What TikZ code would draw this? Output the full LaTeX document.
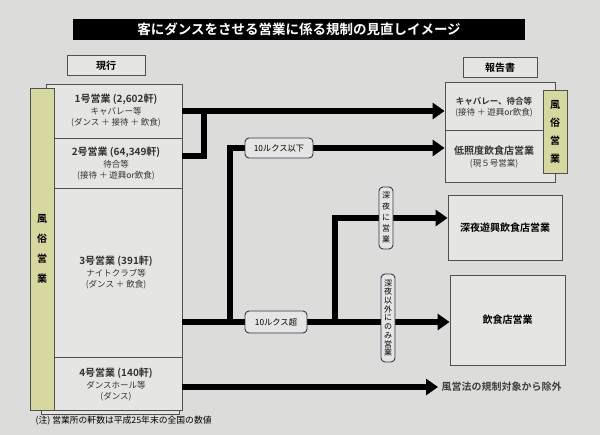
\documentclass[tikz,border=0pt]{standalone}
\usepackage{fontspec}
\setmainfont{Noto Sans CJK JP}[BoldFont={Noto Sans CJK JP Bold}]
\usepackage{xcolor}
\usetikzlibrary{arrows.meta,positioning}

\definecolor{paper}{RGB}{220,220,218}
\definecolor{sheet}{RGB}{229,229,227}
\definecolor{strip}{RGB}{214,216,160}
\definecolor{rim}{RGB}{80,80,80}
\definecolor{tagrim}{RGB}{50,55,80}

\tikzset{
  rowbox/.style={draw=rim, fill=sheet, line width=0.8pt, inner sep=0pt},
  headbox/.style={draw=rim, fill=sheet, line width=1pt, inner sep=0pt, font=\bfseries\fontsize{10}{12}\selectfont},
  stripbox/.style={draw=rim, fill=strip, line width=0.6pt, inner sep=0pt},
  flow/.style={line width=6pt, line join=miter},
  arr/.style={line width=6pt, line join=miter, -{Triangle[length=12pt,width=16pt]}},
  tag/.style={draw=tagrim, fill=sheet, rounded corners=4pt, line width=0.9pt, inner sep=0pt, align=center, font=\fontsize{8.3}{10}\selectfont},
  rowtext/.style={align=center, font=\fontsize{8.5}{11.5}\selectfont, text=black!80},
  vtext/.style={align=center, font=\bfseries\fontsize{10}{20}\selectfont}
}

\begin{document}
\begin{tikzpicture}[x=1pt,y=-1pt]
  % paper
  \fill[paper] (0,0) rectangle (600,435);
  \useasboundingbox (0,0) rectangle (600,435);

  % title and headings
  \node[fill=black, minimum width=452pt, minimum height=21pt, inner sep=0pt,
        text=white, font=\bfseries\fontsize{13.5}{15}\selectfont] (title) at (299,29.5)
        {客にダンスをさせる営業に係る規制の見直しイメージ};
  \node[headbox, minimum width=78pt, minimum height=20pt] (now) at (106,66) {現行};
  \node[headbox, minimum width=74pt, minimum height=20pt] (report) at (500,68) {報告書};

  % current business classes
  \draw[rim, line width=0.8pt, fill=sheet] (41,88) rectangle (179,414);
  \node[rowbox, minimum width=136pt, minimum height=54pt] (r1) at (114,111) {};
  \node[rowbox, minimum width=136pt, minimum height=50pt] (r2) at (114,163) {};
  \node[rowbox, minimum width=136pt, minimum height=169pt] (r3) at (114,272.5) {};
  \node[rowbox, minimum width=136pt, minimum height=53pt] (r4) at (114,383.5) {};
  \node[stripbox, minimum width=24pt, minimum height=322pt] (fuzoku1) at (42,249) {};
  \node[vtext] at (fuzoku1) {風\\俗\\営\\業};

  \node[rowtext] at (116,111) {\textbf{\fontsize{10}{11.5}\selectfont 1号営業 (2,602軒)}\\キャバレー等\\(ダンス\ ＋\ 接待\ ＋\ 飲食)};
  \node[rowtext] at (116,164) {\textbf{\fontsize{10}{11.5}\selectfont 2号営業 (64,349軒)}\\待合等\\(接待\ ＋\ 遊興or飲食)};
  \node[rowtext] at (116,273) {\textbf{\fontsize{10}{11.5}\selectfont 3号営業 (391軒)}\\ナイトクラブ等\\(ダンス\ ＋\ 飲食)};
  \node[rowtext] at (116,385) {\textbf{\fontsize{10}{11.5}\selectfont 4号営業 (140軒)}\\ダンスホール等\\(ダンス)};
  \node[anchor=west, font=\fontsize{8.8}{10}\selectfont] (note) at (32,421)
        {(注)\ 営業所の軒数は平成25年末の全国の数値};

  % report side
  \node[rowbox, minimum width=110pt, minimum height=48pt] (rep1) at (500,106) {};
  \node[rowbox, minimum width=110pt, minimum height=52pt] (rep2) at (500,156) {};
  \node[rowbox, minimum width=114pt, minimum height=65pt] (rep3) at (505,227.5) {};
  \node[rowbox, minimum width=115pt, minimum height=90pt] (rep4) at (507.5,320) {};
  \node[rowtext] at (494,107) {\textbf{キャバレー、待合等}\\(接待\ ＋\ 遊興or飲食)};
  \node[rowtext] at (494,157) {\textbf{\fontsize{10}{11.5}\selectfont 低照度飲食店営業}\\(現５号営業)};
  \node[font=\bfseries\fontsize{10}{12}\selectfont] at (rep3) {深夜遊興飲食店営業};
  \node[font=\bfseries\fontsize{10}{12}\selectfont] at (rep4) {飲食店営業};
  \node[stripbox, minimum width=24pt, minimum height=83pt] (fuzoku2) at (555,131.5) {};
  \node[vtext, font=\bfseries\fontsize{10}{18}\selectfont] at (fuzoku2) {風\\俗\\営\\業};
  \node[anchor=west, font=\bfseries\fontsize{10}{12}\selectfont, text=black!75] (excl) at (438,387)
        {風営法の規制対象から除外};

  % connectors
  \coordinate (j1) at (204,111);
  \coordinate (b1) at (230,322);
  \coordinate (b2) at (335,322);
  \coordinate (lux1) at (279,148);
  \coordinate (lux2) at (276,322);
  \coordinate (night1) at (386,218);
  \coordinate (night2) at (388,318);
  \draw[arr] (r1.east) -- (r1.east -| rep1.west);
  \draw[flow] (r2.east |- 0,156) -| (j1);
  \draw[arr] (r3.east |- lux2) -- (lux2 -| rep4.west);
  \draw[arr] (b1) |- (lux1 -| rep2.west);
  \draw[arr] (b2) |- (night1 -| rep3.west);
  \draw[arr] (r4.east |- excl) -- (excl.west);

  % labels on the lines
  \node[tag, minimum width=68pt, minimum height=20pt] at (lux1) {10ルクス以下};
  \node[tag, minimum width=62pt, minimum height=22pt] at (lux2) {10ルクス超};
  \node[tag, font=\fontsize{8}{11}\selectfont, minimum width=14pt, minimum height=62pt] at (night1) {深\\夜\\に\\営\\業};
  \node[tag, font=\fontsize{8}{8.7}\selectfont, minimum width=14pt, minimum height=88pt] at (night2) {深\\夜\\以\\外\\に\\の\\み\\営\\業};
\end{tikzpicture}
\end{document}
